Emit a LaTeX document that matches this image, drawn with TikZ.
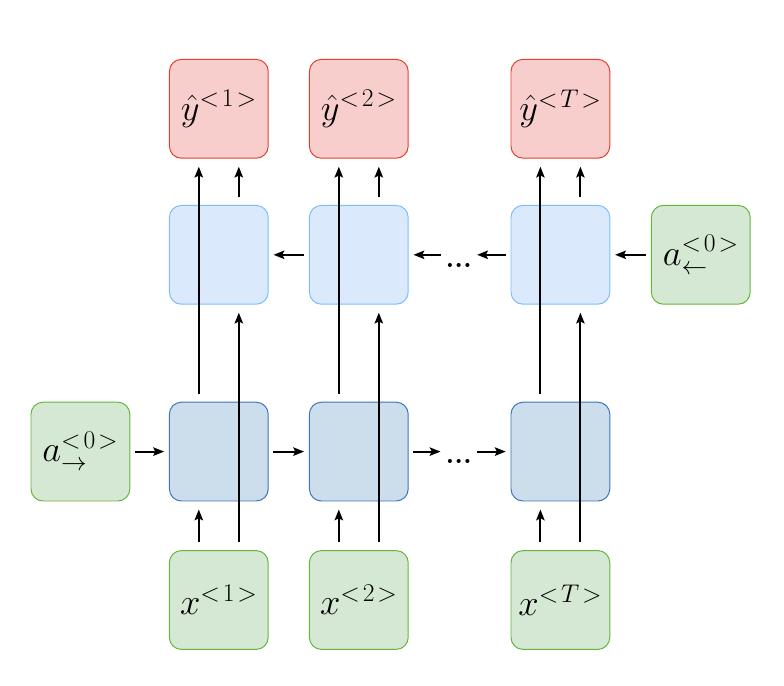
\RequirePackage{fix-cm}
\documentclass[tikz,border=0pt]{standalone}
\usepackage{amsmath}
\usepackage{tikz}
\usetikzlibrary{arrows.meta,positioning}
\definecolor{OutBG}{HTML}{F8CECC}
\definecolor{OutFrame}{HTML}{E23F2C}
\definecolor{BwdBG}{HTML}{DAE9FC}
\definecolor{BwdFrame}{HTML}{7DBDFA}
\definecolor{FwdBG}{HTML}{CCDDEC}
\definecolor{FwdFrame}{HTML}{3D74BD}
\definecolor{InBG}{HTML}{D5E8D4}
\definecolor{InFrame}{HTML}{63B639}
\newcommand{\tsup}[1]{^{<\mkern2mu#1\mkern2mu>}}

\begin{document}
\begin{tikzpicture}[
  every node/.style={font=\fontsize{26}{30}\selectfont},
  cell/.style={draw, rounded corners=0.3cm, minimum size=2.47cm, inner sep=0pt,
               line width=0.7pt},
  outbox/.style={cell, fill=OutBG, draw=OutFrame},
  bwdbox/.style={cell, fill=BwdBG, draw=BwdFrame},
  fwdbox/.style={cell, fill=FwdBG, draw=FwdFrame},
  inbox/.style={cell, fill=InBG, draw=InFrame},
  dotsn/.style={font=\fontsize{20}{24}\selectfont\bfseries, inner sep=0pt,
                text height=0.62cm, text depth=0pt},
  link/.style={->, line width=1.4pt, shorten >=0.12cm, shorten <=0.12cm},
  vlink/.style={link, shorten >=0.2cm, shorten <=0.2cm},
  >={Stealth[length=0.27cm,width=0.21cm,inset=0.05cm]}]
  \useasboundingbox (0,0) rectangle (19.6,17.15);
  % outputs
  \node[outbox] (y1) at (5.47,14.43) {$\hat{y}\tsup{1}$};
  \node[outbox] (y2) at (8.97,14.43) {$\hat{y}\tsup{2}$};
  \node[outbox] (yT) at (14.01,14.43) {$\hat{y}\tsup{T}$};
  % backward cells
  \node[bwdbox] (b1) at (5.47,10.78) {};
  \node[bwdbox] (b2) at (8.97,10.78) {};
  \node[dotsn] (db) at (11.47,10.78) {...};
  \node[bwdbox] (bT) at (14.01,10.78) {};
  \node[inbox] (ab) at (17.52,10.78) {$a\tsup{0}_{\leftarrow}$};
  % forward cells
  \node[inbox] (af) at (2.01,5.86) {$a\tsup{0}_{\rightarrow}$};
  \node[fwdbox] (f1) at (5.47,5.86) {};
  \node[fwdbox] (f2) at (8.97,5.86) {};
  \node[dotsn] (df) at (11.47,5.86) {...};
  \node[fwdbox] (fT) at (14.01,5.86) {};
  % inputs
  \node[inbox] (x1) at (5.47,2.15) {$x\tsup{1}$};
  \node[inbox] (x2) at (8.97,2.15) {$x\tsup{2}$};
  \node[inbox] (xT) at (14.01,2.15) {$x\tsup{T}$};

  \draw[link] (af) -- (f1);
  \draw[link] (f1) -- (f2);
  \draw[link] (f2) -- (df);
  \draw[link] (df) -- (fT);
  \draw[link] (ab) -- (bT);
  \draw[link] (bT) -- (db);
  \draw[link] (db) -- (b2);
  \draw[link] (b2) -- (b1);
  \foreach \i in {1,2,T} {
    \draw[vlink] ([xshift=-0.5cm]x\i.north) -- ([xshift=-0.5cm]f\i.south);
    \draw[vlink] ([xshift=0.5cm]x\i.north) -- ([xshift=0.5cm]b\i.south);
    \draw[vlink] ([xshift=-0.5cm]f\i.north) -- ([xshift=-0.5cm]y\i.south);
    \draw[vlink] ([xshift=0.5cm]b\i.north) -- ([xshift=0.5cm]y\i.south);
  }
\end{tikzpicture}
\end{document}
